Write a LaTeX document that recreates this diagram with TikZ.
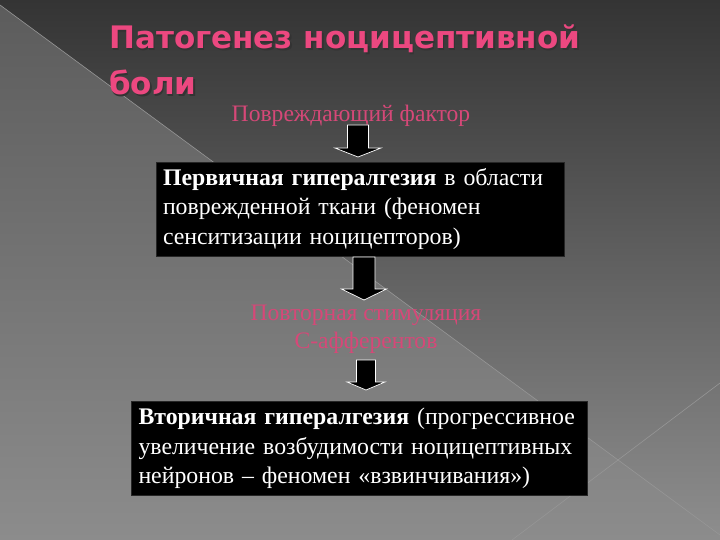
\documentclass[tikz,border=0pt]{standalone}
\usepackage{fontspec}
\setmainfont{Liberation Serif}
\newfontfamily\titlefont{DejaVu Sans}
\usetikzlibrary{calc}
\definecolor{bgtop}{RGB}{52,52,52}
\definecolor{bgbot}{RGB}{142,142,142}
\definecolor{bgltop}{RGB}{92,92,92}
\definecolor{bglbot}{RGB}{140,140,140}
\definecolor{pinktitle}{RGB}{236,72,128}
\definecolor{pinklabel}{RGB}{214,72,120}
\definecolor{diagline}{RGB}{150,150,150}
\tikzset{
  titletext/.style={anchor=base west, inner sep=0pt, text=pinktitle, font=\titlefont\bfseries\fontsize{31}{37}\selectfont},
  titleshadow/.style={anchor=base west, inner sep=0pt, text=black!80, font=\titlefont\bfseries\fontsize{31}{37}\selectfont},
  pinklab/.style={inner sep=0pt, text=pinklabel, align=center, font=\fontsize{23.6}{28}\selectfont},
  blackbox/.style={fill=black, draw=black!70!gray, line width=0.4pt, text=white, align=left, inner xsep=7pt, inner ysep=0pt, font=\fontsize{23.8}{29.5}\selectfont},
  blockarr/.style={fill=black, draw=white, line width=0.7pt, line join=miter}
}
\newcommand\myblockarrow[5]{% start, end, shaft half, head half, head length
  \filldraw[blockarr] ($(#1)+(-#3,0)$) -- ($(#1)+(#3,0)$) -- ($(#2)+(#3,-#5)$) -- ($(#2)+(#4,-#5)$) -- (#2) -- ($(#2)+(-#4,-#5)$) -- ($(#2)+(-#3,-#5)$) -- cycle;
}
\begin{document}
\begin{tikzpicture}[x=1pt,y=-1pt]
\useasboundingbox (0,0) rectangle (720,540);
% background
\shade[top color=bgtop, bottom color=bgbot] (0,0) rectangle (720,540);
\shade[top color=bgltop, bottom color=bglbot] (0,5) -- (720,535) -- (720,540) -- (0,540) -- cycle;
\draw[diagline, line width=0.6pt] (0,5) -- (720,535);
\draw[diagline, line width=0.6pt] (720,383) -- (512,540);
% title
\node[titleshadow] (t1s) at (110.5,50.5) {Патогенез ноцицептивной};
\node[titletext] (t1) at (109,49) {Патогенез ноцицептивной};
\node[titleshadow] (t2s) at (110.5,96.5) {боли};
\node[titletext] (t2) at (109,95) {боли};
% labels and boxes
\node[pinklab, anchor=base] (l1) at (351,122) {Повреждающий фактор};
\node[blackbox, text width=394pt, minimum width=408pt, minimum height=94pt] (b1) at (360,209)
  {\textbf{Первичная гипералгезия} в области\\поврежденной ткани (феномен\\сенситизации ноцицепторов)};
\node[pinklab, anchor=base] (l2) at (366,348) {Повторная стимуляция\\С-афферентов};
\node[blackbox, text width=442pt, minimum width=456pt, minimum height=94pt] (b2) at (359.5,448.5)
  {\textbf{Вторичная гипералгезия} (прогрессивное\\увеличение возбудимости ноцицептивных\\нейронов – феномен «взвинчивания»)};
% arrows
\coordinate (a1s) at (358,125);
\coordinate (a1e) at (358,157);
\coordinate (a2s) at (364,257);
\coordinate (a2e) at (364,300);
\coordinate (a3s) at (366,360);
\coordinate (a3e) at (366,390);
\myblockarrow{a1s}{a1e}{10.5}{23}{9}
\myblockarrow{a2s}{a2e}{11}{22.5}{11}
\myblockarrow{a3s}{a3e}{9.5}{19}{8}
\end{tikzpicture}
\end{document}
